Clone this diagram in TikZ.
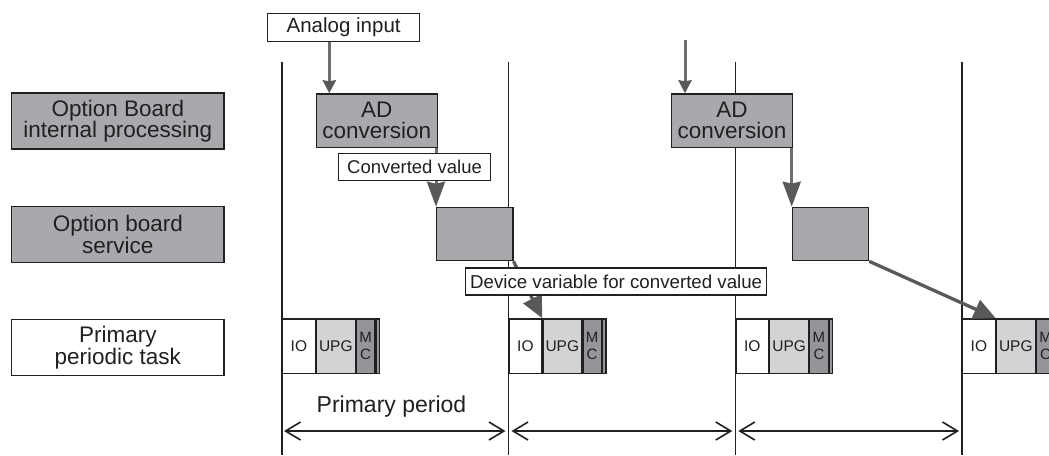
\documentclass[tikz,border=0pt]{standalone}
\usepackage{fontspec}
\setmainfont{Liberation Sans}
\usetikzlibrary{arrows.meta,calc}
\definecolor{ink}{HTML}{231F20}
\definecolor{boxgray}{HTML}{A7A9AC}
\definecolor{upggray}{HTML}{D1D3D4}
\definecolor{mcgray}{HTML}{939598}
\definecolor{arrgray}{HTML}{6D6E71}
\definecolor{headgray}{HTML}{58595B}
\newcommand\myfs[2]{\fontsize{#1}{#2}\selectfont}
\begin{document}
\begin{tikzpicture}[x=1pt,y=-1pt,
  box/.style={draw=ink, line width=1.3pt, inner sep=0pt, align=center, text=ink, anchor=north west},
  graybox/.style={box, fill=boxgray},
  whitebox/.style={box, fill=white},
  lab/.style={minimum width=212.3pt, minimum height=56pt, font=\myfs{22.5}{21.5}},
  adbox/.style={graybox, minimum width=121pt, minimum height=53.4pt, font=\myfs{22.5}{21}},
  srvbox/.style={graybox, minimum width=76.2pt, minimum height=53.3pt},
  iobox/.style={whitebox, minimum width=32.5pt, minimum height=54.4pt, font=\myfs{15.5}{16}},
  upgbox/.style={box, fill=upggray, minimum width=38.7pt, minimum height=54.4pt, font=\myfs{15.5}{16}},
  mcbox/.style={box, fill=mcgray, minimum width=18.4pt, minimum height=54.4pt, font=\myfs{15}{16.5}},
  stripbox/.style={box, fill=mcgray, minimum width=3.3pt, minimum height=54.4pt},
  vline/.style={draw=ink, line width=1.1pt},
  inarrow/.style={draw=arrgray, line width=3pt, -{Stealth[length=13pt,width=13pt,inset=1pt,color=headgray]}},
  downarrow/.style={draw=arrgray, line width=3pt, -{Stealth[length=25pt,width=18pt,inset=2pt,color=headgray]}},
  diagarrow/.style={draw=headgray, line width=3.3pt, -{Triangle[length=22pt,width=20pt]}},
  periodarrow/.style={draw=ink, line width=1.6pt, {Straight Barb[length=15pt,width=18pt]}-{Straight Barb[length=15pt,width=18pt]}}
]
\useasboundingbox (0,0) rectangle (1049,455);
\clip (0,0) rectangle (1049,455);

% time boundaries
\foreach \x in {282,508.5,735.3,962} {
  \draw[vline] (\x,62) -- (\x,455);
}

% row labels
\node[graybox, lab] (lab1) at (11,92.3) {Option Board\\internal processing};
\node[graybox, lab] (lab2) at (11,205.7) {Option board\\service};
\node[whitebox, lab] (lab3) at (11,319) {Primary\\periodic task};

% analog input
\node[whitebox, minimum width=152pt, minimum height=28pt, font=\myfs{20.5}{20.5}] (ana) at (267,12.7) {Analog input};
\coordinate (a1) at ($(ana.south west)+(62.3,0)$);
\coordinate (in2) at (685,40);

% AD conversion boxes
\node[adbox] (ad1) at (315.7,93.3) {AD\\conversion};
\node[adbox, minimum width=121.3pt] (ad2) at (670.7,93.3) {AD\\conversion};

% option board service boxes
\node[srvbox] (srv1) at (436,206.7) {};
\node[srvbox] (srv2) at (791.7,206.7) {};

% arrows AD -> service
\draw[downarrow] (srv1.north west |- ad1.south) -- (srv1.north west);
\draw[downarrow] (srv2.north west |- ad2.south) -- (srv2.north west);

% input arrows
\draw[inarrow] (a1) -- (a1 |- ad1.north);
\draw[inarrow] (in2) -- (in2 |- ad2.north);

% converted value label
\node[whitebox, minimum width=152.3pt, minimum height=27.3pt, font=\myfs{18.5}{18.5}] (conv) at (337.7,152.7) {Converted value};

% primary periodic task blocks
\foreach \i/\x in {1/282,2/508.5,3/735.3,4/962} {
  \node[iobox] (io\i) at (\x,318.3) {IO};
  \node[upgbox] (upg\i) at (io\i.north east) {UPG};
  \node[mcbox] (mc\i) at (upg\i.north east) {M\\C};
  \node[stripbox] (st\i) at (mc\i.north east) {};
}

% arrows service -> task
\draw[diagarrow] (srv1.south east) -- (upg2.north west);
\draw[diagarrow] (srv2.south east) -- (upg4.north west);

% device variable label
\node[whitebox, minimum width=301pt, minimum height=27pt, font=\myfs{18.7}{18.7}] (dev) at (465,267.3) {Device variable for converted value};

% primary period
\node[text=ink, font=\myfs{23}{23}, anchor=base] (pp) at (391.5,412) {Primary period};
\draw[periodarrow] (284,431) -- (505.5,431);
\draw[periodarrow] (511.5,431) -- (732.3,431);
\draw[periodarrow] (738.3,431) -- (959,431);
\end{tikzpicture}
\end{document}
